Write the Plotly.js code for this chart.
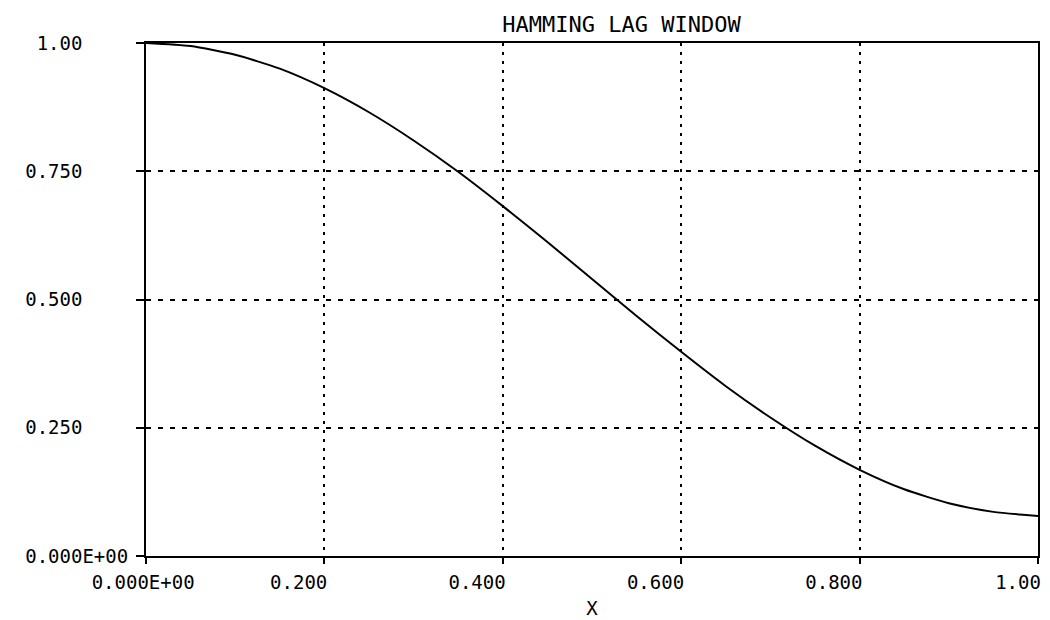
<!DOCTYPE html>
<html>
<head>
<meta charset="utf-8">
<script src="https://cdn.plot.ly/plotly-3.0.1.min.js"></script>
<style>
  html, body { margin: 0; padding: 0; background: #fff; }
  #chart { width: 1050px; height: 620px; }
</style>
</head>
<body>
<div id="chart"></div>
<script>
// Values
const lagX = [0.00, 0.05, 0.10, 0.15, 0.20, 0.25, 0.30, 0.35, 0.40, 0.45, 0.50,
              0.55, 0.60, 0.65, 0.70, 0.75, 0.80, 0.85, 0.90, 0.95, 1.00];
const windowY = [1.000, 0.994, 0.977, 0.950, 0.912, 0.865, 0.810, 0.749, 0.682, 0.612, 0.540,
                 0.468, 0.398, 0.331, 0.270, 0.215, 0.168, 0.130, 0.103, 0.086, 0.078];

const xTickVals = [0, 0.2, 0.4, 0.6, 0.8, 1.0];
const xTickLabels = ["0.000E+00", "0.200", "0.400", "0.600", "0.800", "1.00"];
const yTickVals = [0, 0.25, 0.5, 0.75, 1.0];
const yTickLabels = ["0.000E+00", "0.250", "0.500", "0.750", "1.00"];

const chartTitle = "HAMMING LAG WINDOW";
const xTitle = "X";

const NB = "\u00a0";
function padYLabel(s) {
  // plotter-style fixed field: labels start at the same column
  let t = s.length === 4 ? NB + s : s;
  while (t.length < 9) t += NB;
  return t;
}
function padXLabel(s) {
  // plotter-style placement: short labels sit left of their tick,
  // the long first label is centred on it
  if (s.length >= 9) return NB + NB + NB + s;
  if (s.length === 5) return s + NB;
  return s;
}

const FONT = "DejaVu Sans Mono, monospace";

const trace = {
  x: lagX,
  y: windowY,
  type: "scatter",
  mode: "lines",
  line: { color: "#000", width: 2, shape: "spline", smoothing: 0.6 },
  hoverinfo: "x+y",
  showlegend: false
};

const layout = {
  width: 1050,
  height: 620,
  margin: { l: 146, r: 12, t: 43, b: 64, pad: 0 },
  paper_bgcolor: "#fff",
  plot_bgcolor: "#fff",
  font: { family: FONT, color: "#000", size: 19 },
  title: {
    text: chartTitle,
    font: { family: FONT, size: 22, color: "#000" },
    x: 0.533, xref: "paper", xanchor: "center",
    y: 1 - 24 / 620, yref: "container", yanchor: "middle"
  },
  xaxis: {
    range: [0, 1],
    tickmode: "array",
    tickvals: xTickVals,
    ticktext: xTickLabels.map(padXLabel),
    showgrid: true,
    gridcolor: "#000",
    gridwidth: 2,
    griddash: "3px,6px",
    zeroline: false,
    showline: true,
    linecolor: "#000",
    linewidth: 2,
    mirror: true,
    ticks: "outside",
    ticklen: 6,
    tickwidth: 2,
    tickcolor: "#000",
    tickfont: { family: FONT, size: 19, color: "#000" },
    ticklabelstandoff: 2,
    ticklabelshift: -20,
    ticklabeloverflow: "allow",
    automargin: false,
    title: { text: xTitle, font: { family: FONT, size: 19, color: "#000" }, standoff: 10 }
  },
  yaxis: {
    range: [0, 1],
    tickmode: "array",
    tickvals: yTickVals,
    ticktext: yTickLabels.map(padYLabel),
    showgrid: true,
    gridcolor: "#000",
    gridwidth: 2,
    griddash: "5px,7px",
    zeroline: false,
    showline: true,
    linecolor: "#000",
    linewidth: 2,
    mirror: true,
    ticks: "outside",
    ticklen: 8,
    tickwidth: 2,
    tickcolor: "#000",
    tickfont: { family: FONT, size: 19, color: "#000" },
    ticklabelstandoff: 4,
    ticklabeloverflow: "allow",
    automargin: false
  }
};

Plotly.newPlot("chart", [trace], layout, { displayModeBar: false, staticPlot: true });
</script>
</body>
</html>
